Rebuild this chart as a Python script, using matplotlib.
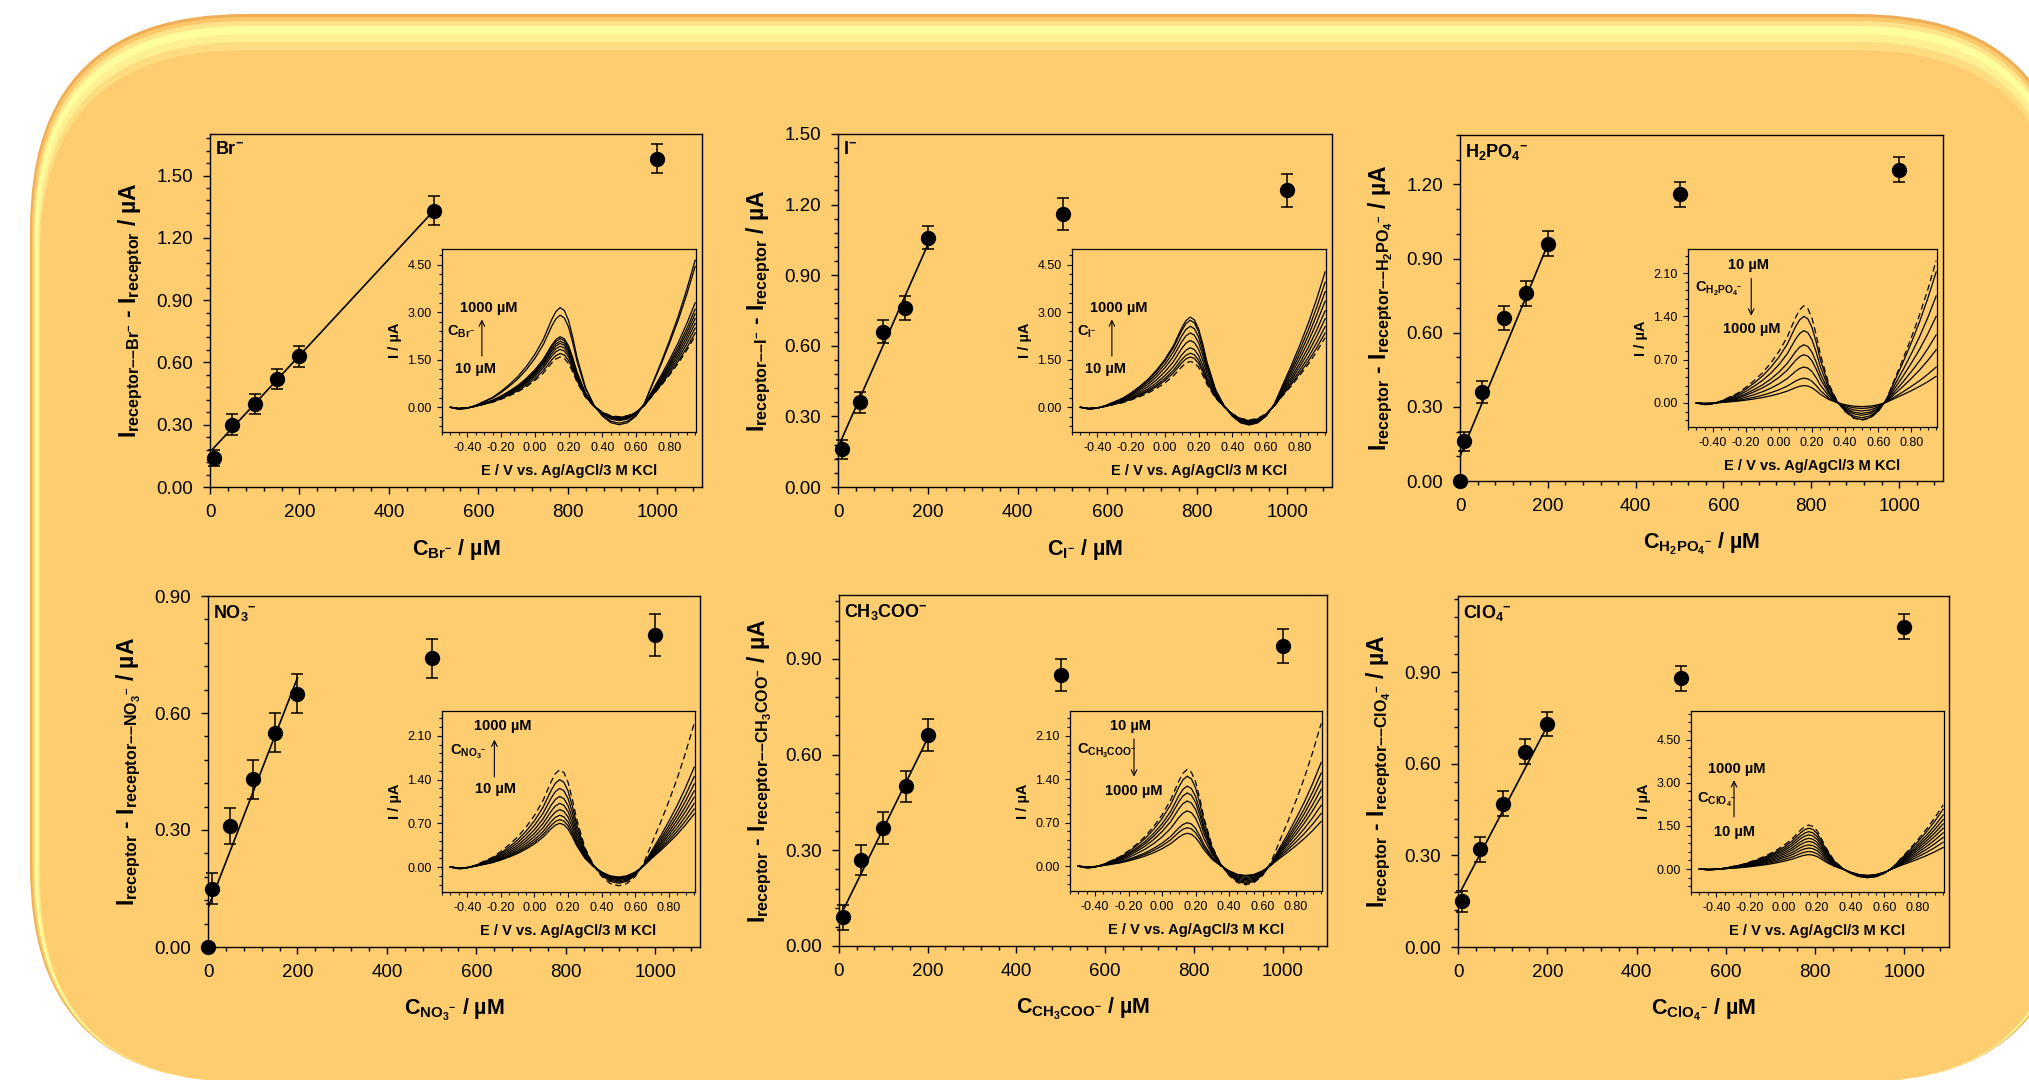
import numpy as np
import matplotlib
matplotlib.use("Agg")
import matplotlib.pyplot as plt
from matplotlib.patches import FancyBboxPatch
from matplotlib.ticker import MultipleLocator, FormatStrFormatter

plt.rcParams["font.family"] = ["Liberation Sans", "DejaVu Sans"]
plt.rcParams["mathtext.fontset"] = "custom"
plt.rcParams["mathtext.rm"] = "Liberation Sans"
plt.rcParams["mathtext.it"] = "Liberation Sans:italic"
plt.rcParams["mathtext.bf"] = "Liberation Sans:bold"
plt.rcParams["mathtext.default"] = "bf"

# ---- calibration data (main panels) ----
conc = [10, 50, 100, 150, 200, 500, 1000]
conc0 = [0, 10, 50, 100, 150, 200, 500, 1000]

br_signal = [0.14, 0.30, 0.40, 0.52, 0.63, 1.33, 1.58]
br_err = [0.04, 0.05, 0.05, 0.05, 0.05, 0.07, 0.07]
br_fit_x = [5, 500]
br_fit_y = [0.18, 1.33]

i_signal = [0.16, 0.36, 0.66, 0.76, 1.06, 1.16, 1.26]
i_err = [0.04, 0.045, 0.05, 0.05, 0.05, 0.07, 0.07]
i_fit_x = [5, 200]
i_fit_y = [0.19, 1.03]

h2po4_signal = [0.00, 0.16, 0.36, 0.66, 0.76, 0.96, 1.16, 1.26]
h2po4_err = [0.0, 0.04, 0.045, 0.05, 0.05, 0.05, 0.05, 0.05]
h2po4_fit_x = [0, 196]
h2po4_fit_y = [0.10, 0.94]

no3_signal = [0.00, 0.15, 0.31, 0.43, 0.55, 0.65, 0.74, 0.80]
no3_err = [0.0, 0.04, 0.047, 0.05, 0.05, 0.05, 0.05, 0.053]
no3_fit_x = [0, 200]
no3_fit_y = [0.10, 0.69]

ac_signal = [0.09, 0.27, 0.37, 0.50, 0.66, 0.85, 0.94]
ac_err = [0.04, 0.046, 0.05, 0.05, 0.05, 0.05, 0.052]
ac_fit_x = [5, 196]
ac_fit_y = [0.10, 0.64]

clo4_signal = [0.15, 0.32, 0.47, 0.64, 0.73, 0.88, 1.05]
clo4_err = [0.035, 0.04, 0.04, 0.04, 0.04, 0.04, 0.04]
clo4_fit_x = [5, 195]
clo4_fit_y = [0.18, 0.71]

# ---- DPV insets: curve profiles ----
E = [-0.50, -0.45, -0.40, -0.35, -0.30, -0.25, -0.20, -0.15, -0.10, -0.05,
     0.00, 0.05, 0.075, 0.10, 0.125, 0.15, 0.175, 0.20, 0.225, 0.25,
     0.30, 0.35, 0.40, 0.45, 0.50, 0.55, 0.60, 0.65, 0.70, 0.75,
     0.80, 0.85, 0.90, 0.95]
peak_shape = [0.00, -0.02, -0.01, 0.02, 0.06, 0.10, 0.16, 0.23, 0.31, 0.41,
              0.53, 0.68, 0.78, 0.88, 0.96, 1.00, 0.97, 0.87, 0.70, 0.50,
              0.20, 0.04, 0.00, 0.00, 0, 0, 0, 0, 0, 0,
              0, 0, 0, 0]
dip_shape = [0, 0, 0, 0, 0, 0, 0, 0, 0, 0,
             0, 0, 0, 0, 0, 0, 0, 0, 0, 0,
             0, 0.10, 0.50, 0.88, 1.00, 0.88, 0.50, 0.10, 0, 0,
             0, 0, 0, 0]
tail_shape = [0, 0, 0, 0, 0, 0, 0, 0, 0, 0,
              0, 0, 0, 0, 0, 0, 0, 0, 0, 0,
              0, 0, 0, 0, 0, 0, 0, 0.04, 0.17, 0.31,
              0.46, 0.62, 0.80, 1.00]

# (peak, valley, tail) in uA; first entry is the dashed receptor curve
br_peak = [1.59, 1.70, 1.83, 1.93, 2.02, 2.09, 2.17, 2.23, 2.91, 3.15]
br_valley = [0.30, 0.32, 0.34, 0.36, 0.37, 0.38, 0.40, 0.42, 0.50, 0.55]
br_tail = [2.25, 2.35, 2.50, 2.65, 2.80, 2.95, 3.10, 3.30, 4.45, 4.65]

i_peak = [1.45, 1.59, 1.71, 1.88, 2.11, 2.35, 2.56, 2.75, 2.85]
i_valley = [0.40, 0.42, 0.44, 0.46, 0.48, 0.50, 0.52, 0.54, 0.56]
i_tail = [2.20, 2.35, 2.55, 2.80, 3.05, 3.35, 3.65, 3.95, 4.28]

h2po4_peak = [1.57, 1.40, 1.17, 0.94, 0.78, 0.58, 0.40, 0.28]
h2po4_valley = [0.28, 0.27, 0.24, 0.20, 0.17, 0.13, 0.09, 0.06]
h2po4_tail = [2.30, 2.12, 1.73, 1.40, 1.10, 0.86, 0.58, 0.43]

no3_peak = [1.56, 1.40, 1.26, 1.13, 1.02, 0.92, 0.83, 0.76, 0.70]
no3_valley = [0.30, 0.26, 0.24, 0.22, 0.20, 0.19, 0.18, 0.17, 0.16]
no3_tail = [2.30, 1.60, 1.45, 1.33, 1.22, 1.12, 1.02, 0.93, 0.85]

ac_peak = [1.56, 1.45, 1.29, 1.18, 1.05, 0.89, 0.70, 0.62, 0.53]
ac_valley = [0.30, 0.28, 0.26, 0.24, 0.22, 0.20, 0.18, 0.16, 0.15]
ac_tail = [2.30, 1.67, 1.50, 1.37, 1.24, 1.12, 0.98, 0.85, 0.72]

clo4_peak = [1.53, 1.42, 1.30, 1.19, 1.07, 0.96, 0.84, 0.73, 0.61, 0.50]
clo4_valley = [0.30, 0.30, 0.29, 0.28, 0.27, 0.26, 0.25, 0.24, 0.23, 0.22]
clo4_tail = [2.23, 2.08, 1.88, 1.72, 1.57, 1.42, 1.26, 1.10, 0.93, 0.75]

FW, FH = 2029, 1080
fig = plt.figure(figsize=(FW / 100, FH / 100), dpi=100)
fig.patch.set_facecolor("white")

# rounded card behind everything, a few layers for the bevel
x0, x1, y0, y1 = 0.30, 20.73, -0.02, 10.66
layers = [(0.00, 0.00, "#efad55"), (0.02, 0.03, "#fbc86a"), (0.04, 0.07, "#ffe48a"),
          (0.05, 0.12, "#ffff9e"), (0.07, 0.20, "#fff193"), (0.09, 0.28, "#fedc80"),
          (0.10, 0.36, "#fdcd70")]
for side, top, col in layers:
    fig.add_artist(FancyBboxPatch(
        (x0 + side, y0), (x1 - x0) - 2 * side, (y1 - y0) - top,
        boxstyle=f"round,pad=0,rounding_size={2.15 - side}",
        transform=fig.dpi_scale_trans, facecolor=col, edgecolor="none", zorder=-10))


def px_rect(left, right, top, bottom):
    return [left / FW, 1 - bottom / FH, (right - left) / FW, (bottom - top) / FH]


def main_panel(rect, x, y, err, fit_x, fit_y, ytop, yminor, title, xlab, ylab):
    ax = fig.add_axes(rect)
    ax.set_facecolor("none")
    ax.plot(fit_x, fit_y, color="black", lw=1.2, zorder=2)
    ax.errorbar(x, y, yerr=err, fmt="o", color="black", ms=10, capsize=4,
                elinewidth=1.1, capthick=1.1, clip_on=False, zorder=3)
    ax.set_xlim(0, 1100)
    ax.set_ylim(0, ytop)
    ax.xaxis.set_major_locator(MultipleLocator(200))
    ax.xaxis.set_minor_locator(MultipleLocator(40))
    ax.yaxis.set_major_locator(MultipleLocator(0.30))
    ax.yaxis.set_minor_locator(MultipleLocator(yminor))
    ax.yaxis.set_major_formatter(FormatStrFormatter("%.2f"))
    ax.tick_params(which="both", direction="out", top=False, right=False, width=1.0)
    ax.tick_params(which="major", length=5, labelsize=13.5, pad=7)
    ax.tick_params(which="minor", length=3)
    for s in ax.spines.values():
        s.set_linewidth(1.0)
    ax.set_xlabel(xlab, fontsize=15.5, fontweight="bold", labelpad=12)
    ax.set_ylabel(ylab, fontsize=16.5, fontweight="bold", labelpad=8)
    ax.text(0.01, 0.98, title, transform=ax.transAxes, fontsize=13,
            fontweight="bold", ha="left", va="top")
    return ax


def inset_panel(rect, peak, valley, tail, ylim, ymajor, yminor, clabel, arrow_x,
                arrow_from, arrow_to, top_txt, top_xy, bot_txt, bot_xy, lab_xy):
    ax = fig.add_axes(rect)
    ax.set_facecolor("none")
    curves = (np.array(peak)[:, None] * np.array(peak_shape)
              - np.array(valley)[:, None] * np.array(dip_shape)
              + np.array(tail)[:, None] * np.array(tail_shape))
    ax.plot(E, curves[0], color="black", lw=0.9, ls=(0, (5, 3)))
    for c in curves[1:]:
        ax.plot(E, c, color="black", lw=0.9)
    ax.set_xlim(-0.55, 0.955)
    ax.set_ylim(*ylim)
    ax.xaxis.set_minor_locator(MultipleLocator(0.05))
    ax.yaxis.set_major_locator(MultipleLocator(ymajor))
    ax.yaxis.set_minor_locator(MultipleLocator(yminor))
    ax.xaxis.set_major_formatter(FormatStrFormatter("%.2f"))
    ax.yaxis.set_major_formatter(FormatStrFormatter("%.2f"))
    ax.set_xticks([-0.4, -0.2, 0.0, 0.2, 0.4, 0.6, 0.8])
    ax.set_yticks([v for v in ax.get_yticks() if 0 <= v <= ylim[1] - 0.2])
    ax.tick_params(which="both", direction="out", top=False, right=False, width=0.8)
    ax.tick_params(which="major", length=3.5, labelsize=9, pad=4)
    ax.tick_params(which="minor", length=2)
    for s in ax.spines.values():
        s.set_linewidth(0.9)
    ax.set_xlabel("E / V vs. Ag/AgCl/3 M KCl", fontsize=10.5, fontweight="bold", labelpad=7)
    ax.set_ylabel("I / µA", fontsize=10.5, fontweight="bold", labelpad=4)
    ax.annotate("", xy=(arrow_x, arrow_to), xytext=(arrow_x, arrow_from),
                xycoords="axes fraction",
                arrowprops=dict(arrowstyle="->", lw=0.8, color="black"))
    ax.text(*top_xy, top_txt, transform=ax.transAxes, fontsize=10.5,
            fontweight="bold", ha="left", va="center")
    ax.text(*bot_xy, bot_txt, transform=ax.transAxes, fontsize=10.5,
            fontweight="bold", ha="left", va="center")
    ax.text(*lab_xy, clabel, transform=ax.transAxes, fontsize=10.5,
            fontweight="bold", ha="left", va="center")
    return ax


big = (-0.78, 5.0)
small = (-0.40, 2.50)

main_panel(px_rect(210, 702, 134, 487), conc, br_signal, br_err, br_fit_x, br_fit_y,
           1.70, 0.06, "$Br^{-}$", "$C_{Br^{-}}$ / µM",
           "$I_{receptor––Br^{-}}$ - $I_{receptor}$ / µA")
inset_panel(px_rect(442, 696, 249, 432), br_peak, br_valley, br_tail, big, 1.5, 0.3,
            "$C_{Br^{-}}$", 0.157, 0.40, 0.63, "1000 µM", (0.07, 0.68),
            "10 µM", (0.05, 0.345), (0.02, 0.55))

main_panel(px_rect(838, 1332, 134, 487), conc, i_signal, i_err, i_fit_x, i_fit_y,
           1.50, 0.06, "$I^{-}$", "$C_{I^{-}}$ / µM",
           "$I_{receptor––I^{-}}$ - $I_{receptor}$ / µA")
inset_panel(px_rect(1072, 1326, 249, 432), i_peak, i_valley, i_tail, big, 1.5, 0.3,
            "$C_{I^{-}}$", 0.157, 0.40, 0.63, "1000 µM", (0.07, 0.68),
            "10 µM", (0.05, 0.345), (0.02, 0.55))

main_panel(px_rect(1460, 1943, 135, 481), conc0, h2po4_signal, h2po4_err, h2po4_fit_x,
           h2po4_fit_y, 1.40, 0.10, "$H_2PO_4{}^{-}$", "$C_{H_2PO_4{}^{-}}$ / µM",
           "$I_{receptor}$ - $I_{receptor––H_2PO_4{}^{-}}$ / µA")
inset_panel(px_rect(1688, 1937, 249, 427), h2po4_peak, h2po4_valley, h2po4_tail,
            (-0.39, 2.49), 0.7, 0.14, "$C_{H_2PO_4{}^{-}}$", 0.254, 0.85, 0.61,
            "10 µM", (0.16, 0.91), "1000 µM", (0.14, 0.55), (0.03, 0.775))

main_panel(px_rect(208, 700, 596, 947), conc0, no3_signal, no3_err, no3_fit_x, no3_fit_y,
           0.90, 0.06, "$NO_3{}^{-}$", "$C_{NO_3{}^{-}}$ / µM",
           "$I_{receptor}$ - $I_{receptor––NO_3{}^{-}}$ / µA")
inset_panel(px_rect(442, 695, 711, 892), no3_peak, no3_valley, no3_tail, small, 0.7, 0.14,
            "$C_{NO_3{}^{-}}$", 0.207, 0.62, 0.857, "1000 µM", (0.126, 0.917),
            "10 µM", (0.13, 0.568), (0.033, 0.774))

main_panel(px_rect(839, 1327, 595, 946), conc, ac_signal, ac_err, ac_fit_x, ac_fit_y,
           1.10, 0.06, "$CH_3COO^{-}$", "$C_{CH_3COO^{-}}$ / µM",
           "$I_{receptor}$ - $I_{receptor––CH_3COO^{-}}$ / µA")
inset_panel(px_rect(1070, 1322, 711, 891), ac_peak, ac_valley, ac_tail, small, 0.7, 0.14,
            "$C_{CH_3COO^{-}}$", 0.254, 0.86, 0.62, "10 µM", (0.157, 0.917),
            "1000 µM", (0.14, 0.556), (0.028, 0.78))

main_panel(px_rect(1458, 1949, 596, 947), conc, clo4_signal, clo4_err, clo4_fit_x,
           clo4_fit_y, 1.15, 0.06, "$ClO_4{}^{-}$", "$C_{ClO_4{}^{-}}$ / µM",
           "$I_{receptor}$ - $I_{receptor––ClO_4{}^{-}}$ / µA")
inset_panel(px_rect(1691, 1944, 711, 892), clo4_peak, clo4_valley, clo4_tail, (-0.80, 5.5),
            1.5, 0.3, "$C_{ClO_4{}^{-}}$", 0.17, 0.40, 0.633, "1000 µM", (0.069, 0.68),
            "10 µM", (0.089, 0.33), (0.022, 0.51))

fig.savefig("out.png", dpi=100)
